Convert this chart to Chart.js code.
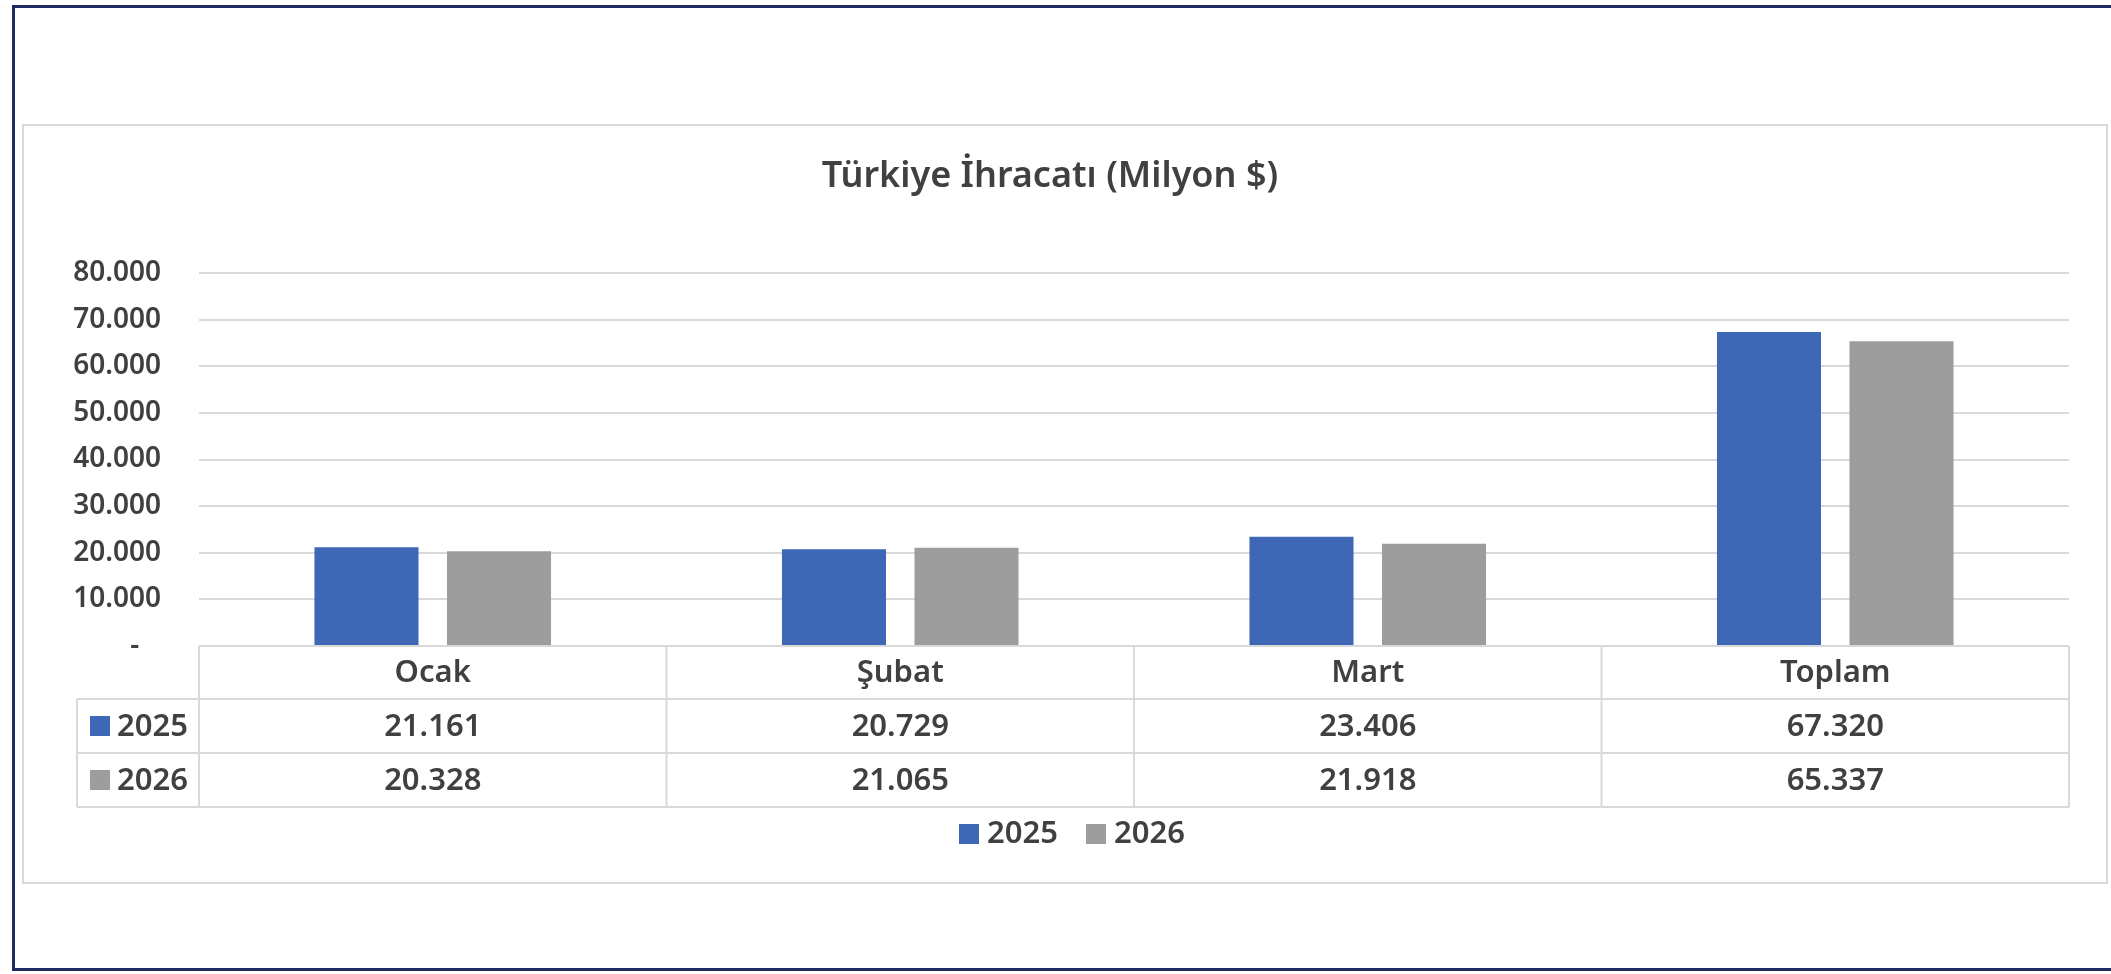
<!DOCTYPE html>
<html lang="tr">
<head>
<meta charset="utf-8">
<title>Türkiye İhracatı (Milyon $)</title>
<script src="https://cdn.jsdelivr.net/npm/chart.js@4/dist/chart.umd.min.js"></script>
<style>
    html, body { margin: 0; padding: 0; background: #ffffff; }
    canvas { display: block; }
</style>
</head>
<body>
<canvas id="exportChart" width="2111" height="974"></canvas>
<script>
const categories = ["Ocak", "Şubat", "Mart", "Toplam"];
const seriesNames = ["2025", "2026"];
const values2025 = [21161, 20729, 23406, 67320];
const values2026 = [20328, 21065, 21918, 65337];
const seriesColors = ["#3E67B6", "#9D9D9D"];
const yMax = 80000;
const yStep = 10000;

const FONT = "'Noto Sans', 'Open Sans', sans-serif";
const TEXT = "#404040";
const LINE = "#D9D9D9";

// turkish style thousands separator: 21161 -> 21.161
function fmt(v) {
    return String(v).replace(/\B(?=(\d{3})+(?!\d))/g, ".");
}

// frames, title, data table and legend
const decorations = {
    id: "decorations",
    beforeDraw(chart) {
        const ctx = chart.ctx;
        ctx.save();
        ctx.fillStyle = "#ffffff";
        ctx.fillRect(0, 0, chart.width, chart.height);

        // outer navy frame
        ctx.strokeStyle = "#1F2B5E";
        ctx.lineWidth = 3;
        ctx.strokeRect(13.5, 6.5, chart.width + 20, 963);

        // chart box
        ctx.strokeStyle = LINE;
        ctx.lineWidth = 2;
        ctx.strokeRect(23, 125, 2084, 758);

        // title
        ctx.fillStyle = TEXT;
        ctx.font = "600 36px " + FONT;
        ctx.textAlign = "center";
        ctx.textBaseline = "alphabetic";
        ctx.fillText("Türkiye İhracatı (Milyon $)", 1050, 187);
        ctx.restore();
    },
    afterDraw(chart) {
        const ctx = chart.ctx;
        const x = chart.scales.x;
        const area = chart.chartArea;
        const n = categories.length;

        // column edges from the category scale
        const edges = [area.left];
        for (let i = 0; i < n - 1; i++) {
            edges.push((x.getPixelForValue(i) + x.getPixelForValue(i + 1)) / 2);
        }
        edges.push(area.right);

        const top = area.bottom;
        const headH = 53;
        const rowH = 54;
        const rows = [top, top + headH, top + headH + rowH, top + headH + 2 * rowH];
        const labelLeft = 77;

        ctx.save();
        ctx.strokeStyle = LINE;
        ctx.lineWidth = 2;
        ctx.beginPath();
        // horizontal lines
        ctx.moveTo(edges[0], rows[0]); ctx.lineTo(edges[n], rows[0]);
        for (let r = 1; r < rows.length; r++) {
            ctx.moveTo(labelLeft, rows[r]); ctx.lineTo(edges[n], rows[r]);
        }
        // vertical lines
        for (let i = 0; i <= n; i++) {
            ctx.moveTo(edges[i], rows[0]); ctx.lineTo(edges[i], rows[3]);
        }
        ctx.moveTo(labelLeft, rows[1]); ctx.lineTo(labelLeft, rows[3]);
        ctx.stroke();

        ctx.fillStyle = TEXT;
        ctx.font = "600 31px " + FONT;
        ctx.textAlign = "center";
        ctx.textBaseline = "middle";
        categories.forEach((c, i) => {
            ctx.fillText(c, x.getPixelForValue(i), (rows[0] + rows[1]) / 2 + 1);
        });

        chart.data.datasets.forEach((ds, s) => {
            const cy = (rows[s + 1] + rows[s + 2]) / 2 + 1;
            ds.data.forEach((v, i) => {
                ctx.fillStyle = TEXT;
                ctx.textAlign = "center";
                ctx.fillText(fmt(v), x.getPixelForValue(i), cy);
            });
            // series key in the first column
            ctx.fillStyle = ds.backgroundColor;
            ctx.fillRect(90, cy - 11, 20, 20);
            ctx.fillStyle = TEXT;
            ctx.textAlign = "left";
            ctx.fillText(ds.label, 117, cy);
        });

        // legend below the table
        const ly = 834;
        const items = [[959, 987], [1086, 1114]];
        chart.data.datasets.forEach((ds, s) => {
            ctx.fillStyle = ds.backgroundColor;
            ctx.fillRect(items[s][0], ly - 10, 20, 20);
            ctx.fillStyle = TEXT;
            ctx.textAlign = "left";
            ctx.fillText(ds.label, items[s][1], ly);
        });
        ctx.restore();
    }
};

const ctxExport = document.getElementById("exportChart");
new Chart(ctxExport, {
    type: "bar",
    data: {
        labels: categories,
        datasets: [{
            label: seriesNames[0],
            data: values2025,
            backgroundColor: seriesColors[0],
            borderWidth: 0
        }, {
            label: seriesNames[1],
            data: values2026,
            backgroundColor: seriesColors[1],
            borderWidth: 0
        }]
    },
    options: {
        responsive: false,
        animation: false,
        devicePixelRatio: 1,
        categoryPercentage: 0.567,
        barPercentage: 0.785,
        layout: {
            padding: { left: 0, right: 42, top: 273, bottom: 328 }
        },
        plugins: {
            legend: { display: false },
            title: { display: false },
            tooltip: { enabled: false }
        },
        scales: {
            x: {
                display: false
            },
            y: {
                min: 0,
                max: yMax,
                afterFit(scale) { scale.width = 199; },
                border: { display: false },
                grid: {
                    color: LINE,
                    lineWidth: 2,
                    drawTicks: false
                },
                ticks: {
                    stepSize: yStep,
                    padding: 38,
                    color: TEXT,
                    font: { family: FONT, size: 28, weight: "600" },
                    callback: function(value) {
                        return value === 0 ? "-   " : fmt(value);
                    }
                }
            }
        }
    },
    plugins: [decorations]
});
</script>
</body>
</html>
